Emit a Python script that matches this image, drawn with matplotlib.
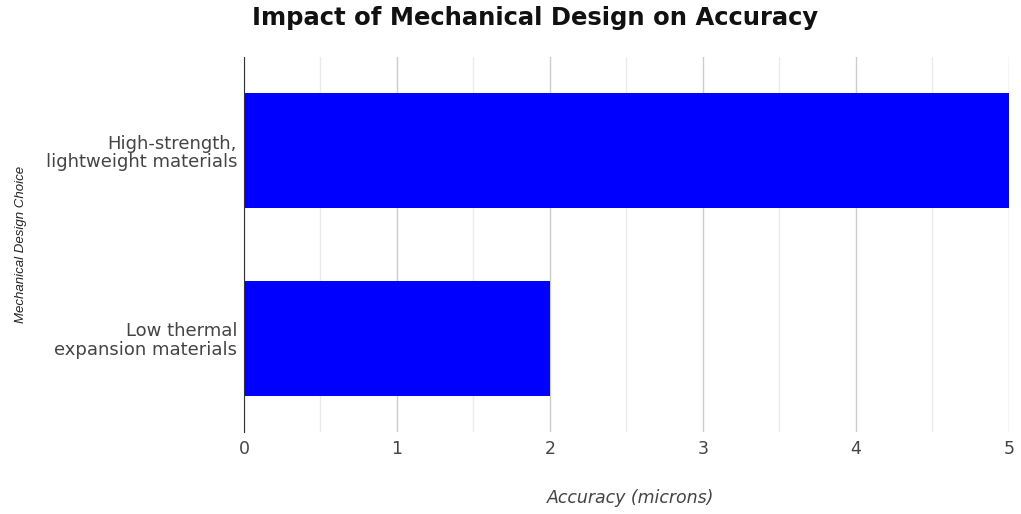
import matplotlib
matplotlib.use("Agg")
import matplotlib.pyplot as plt
from matplotlib.ticker import MultipleLocator

categories = ["High-strength,\nlightweight materials", "Low thermal\nexpansion materials"]
values = [5, 2]
title = "Impact of Mechanical Design on Accuracy"
xlabel = "Accuracy (microns)"
ylabel = "Mechanical Design Choice"

plt.rcParams['font.family'] = ['DejaVu Sans']

fig = plt.figure(figsize=(10.21, 5.14), dpi=100)
ax = fig.add_axes([0.239, 0.1595, 0.749, 0.7295])

pos = list(range(len(categories)))
ax.barh(pos, values, height=0.615, color="#0000FF", zorder=3)
ax.set_ylim(len(categories) - 0.5, -0.5)
ax.set_xlim(0, 5)
ax.set_yticks(pos)
ax.set_yticklabels(categories, fontsize=13, color="#444444", linespacing=1.05)
ax.xaxis.set_major_locator(MultipleLocator(1))
ax.xaxis.set_minor_locator(MultipleLocator(0.5))
ax.tick_params(axis='x', which='both', length=0, labelsize=12.5, labelcolor="#444444", pad=6)
ax.tick_params(axis='y', length=0, pad=5)
ax.grid(axis='x', which='major', color="#cccccc", linewidth=1, zorder=0)
ax.grid(axis='x', which='minor', color="#ebebeb", linewidth=1, zorder=0)
for s in ['top', 'right', 'bottom']:
    ax.spines[s].set_visible(False)
ax.spines['left'].set_color("#333333")
ax.spines['left'].set_zorder(4)

ax.set_xlabel(xlabel, fontsize=12.5, style='italic', color="#444444")
ax.xaxis.set_label_coords(0.505, -0.152)
ax.set_ylabel(ylabel, fontsize=9.5, style='italic', color="#222222",
              family=['Liberation Sans Narrow', 'Liberation Sans'])
ax.yaxis.set_label_coords(-0.284, 0.5)
fig.text(0.5245, 0.951, title, ha='center', va='baseline', fontsize=17.5,
         fontweight='bold', color="#111111")

fig.savefig("out.png", dpi=100, facecolor="white")
